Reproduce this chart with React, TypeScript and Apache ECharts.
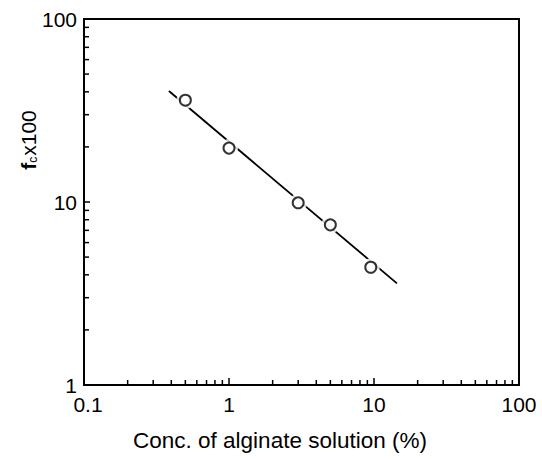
import React, { useEffect, useRef } from "react";
import * as echarts from "echarts";

const concX = [0.5, 1, 3, 5, 9.5];
const fcY = [36, 19.7, 9.9, 7.5, 4.4];
const fitX = [0.385, 14.4];
const fitY = [40.4, 3.59];
const xTickLabels = ["0.1", "1", "10", "100"];
const yTickLabels = ["1", "10", "100"];
const xTitle = "Conc. of alginate solution (%)";

const decadesX = [0.1, 1, 10];
const decadesY = [1, 10];
const minorX: number[] = [];
decadesX.forEach((d) => { for (let k = 2; k <= 9; k++) minorX.push(+(d * k).toPrecision(3)); });
const minorY: number[] = [];
decadesY.forEach((d) => { for (let k = 2; k <= 9; k++) minorY.push(+(d * k).toPrecision(3)); });

export default function App() {
  const ref = useRef<HTMLDivElement>(null);
  useEffect(() => {
    const chart = echarts.init(ref.current!, null, { renderer: "svg" });
    const font = "Liberation Sans";
    const tickData = [
      ...minorX.map((v) => [v, 0]),
      ...minorY.map((v) => [v, 1]),
    ];
    chart.setOption({
      animation: false,
      backgroundColor: "#fff",
      grid: {
        left: 84, right: 23, top: 19, bottom: 74,
        show: true, borderColor: "#000", borderWidth: 2, backgroundColor: "transparent",
      },
      xAxis: {
        type: "log", logBase: 10, min: 0.1, max: 100,
        axisLine: { lineStyle: { color: "#000", width: 2 } },
        axisTick: { inside: true, length: 7, lineStyle: { color: "#000", width: 1.5 } },
        splitLine: { show: false },
        axisLabel: {
          color: "#000", fontFamily: font, fontSize: 21, margin: 9,
          formatter: (v: number) => {
            const s = xTickLabels.find((t) => Math.abs(parseFloat(t) - v) < 1e-6) ?? "";
            return s === "0.1" ? "{f|" + s + "}" : s;
          },
          rich: { f: { fontFamily: font, fontSize: 21, color: "#000", padding: [0, 0, 0, 8] } },
        },
      },
      yAxis: {
        type: "log", logBase: 10, min: 1, max: 100,
        axisLine: { lineStyle: { color: "#000", width: 2 } },
        axisTick: { inside: true, length: 6, lineStyle: { color: "#000", width: 1.5 } },
        splitLine: { show: false },
        axisLabel: {
          color: "#000", fontFamily: font, fontSize: 21, margin: 7,
          formatter: (v: number) => yTickLabels.find((s) => Math.abs(parseFloat(s) - v) < 1e-6) ?? "",
        },
      },
      graphic: [
        {
          type: "text",
          x: 280, y: 440,
          style: {
            text: xTitle, fill: "#000", fontFamily: font, fontSize: 22.5,
            align: "center", verticalAlign: "middle",
          },
        },
        {
          type: "text",
          x: 28, y: 140,
          rotation: Math.PI / 2,
          style: {
            text: "{b|f}{s|c}{n|x100}",
            align: "center", verticalAlign: "middle",
            rich: {
              b: { fontFamily: font, fontSize: 21, fontWeight: "bold", fill: "#000" },
              s: { fontFamily: font, fontSize: 12, fill: "#000", padding: [9, 1, 0, 0] },
              n: { fontFamily: font, fontSize: 21, fill: "#000" },
            },
          },
        },
      ],
      series: [
        {
          type: "custom",
          data: tickData,
          silent: true,
          renderItem: (params: any, api: any) => {
            const v = api.value(0);
            const axis = api.value(1);
            if (axis === 0) {
              const p = api.coord([v, 1]);
              return { type: "line", shape: { x1: p[0], y1: p[1], x2: p[0], y2: p[1] - 5 }, style: { stroke: "#000", lineWidth: 1.5 } };
            }
            const p = api.coord([0.1, v]);
            return { type: "line", shape: { x1: p[0], y1: p[1], x2: p[0] + 5, y2: p[1] }, style: { stroke: "#000", lineWidth: 1.5 } };
          },
          z: 3,
        },
        {
          type: "line",
          data: fitX.map((x, i) => [x, fitY[i]]),
          showSymbol: false,
          lineStyle: { color: "#000", width: 1.8 },
          z: 2,
        },
        {
          type: "scatter",
          data: concX.map((x, i) => [x, fcY[i]]),
          symbol: "circle",
          symbolSize: 18,
          itemStyle: { color: "#fff", borderWidth: 0 },
          z: 3,
        },
        {
          type: "scatter",
          data: concX.map((x, i) => [x, fcY[i]]),
          symbol: "circle",
          symbolSize: 11,
          itemStyle: { color: "#fff", borderColor: "#000", borderWidth: 2 },
          z: 4,
        },
      ],
    });
    return () => chart.dispose();
  }, []);
  return <div ref={ref} style={{ position: "fixed", left: 0, top: 0, width: 542, height: 459 }} />;
}
